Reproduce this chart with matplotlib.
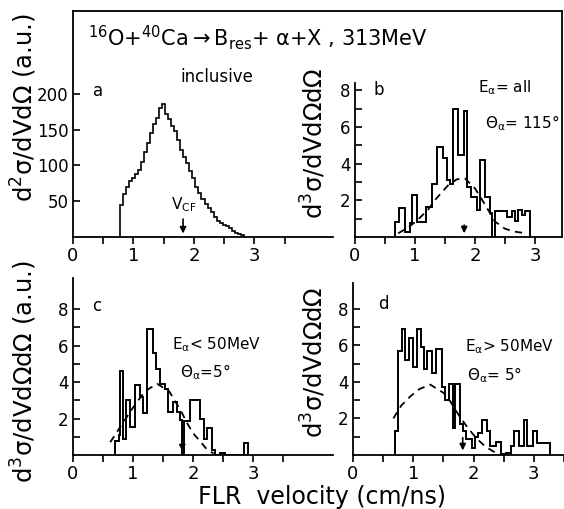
import numpy as np
import matplotlib.pyplot as plt
from matplotlib.lines import Line2D

# panel a: inclusive spectrum (bins of 0.05 starting at 0.775)
a_start = 0.775
a_width = 0.05
a_vals = [45, 60, 70, 78, 82, 88, 93, 105, 119, 132, 145, 158, 166, 180, 186,
          172, 165, 155, 148, 135, 122, 112, 104, 92, 82, 70, 62, 53, 46, 40,
          35, 28, 22, 20, 17, 15, 13, 9, 6, 4, 3]

# panel b: E_alpha = all, theta = 115
b_edges = [0.67, 0.74, 0.83, 0.92, 0.95, 1.03, 1.19, 1.29, 1.36, 1.47, 1.53,
           1.58, 1.64, 1.72, 1.81, 1.87, 1.94, 2.03, 2.08, 2.17, 2.25, 2.28,
           2.33, 2.53, 2.61, 2.67, 2.72, 2.78, 2.83, 2.91]
b_vals = [0.84, 1.57, 0.3, 0.75, 2.3, 0.84, 1.65, 2.9, 4.9, 4.3, 3.1, 2.9,
          7.0, 4.5, 6.85, 2.75, 2.2, 1.48, 4.2, 2.2, 1.3, 0, 1.4, 1.1, 1.4,
          0.9, 1.5, 1.2, 1.4]
b_fit_x = [0.72, 0.9, 1.05, 1.22, 1.33, 1.45, 1.56, 1.7, 1.83, 2.0, 2.17,
           2.33, 2.5, 2.65, 2.85]
b_fit_y = [0.2, 0.55, 0.95, 1.5, 2.0, 2.45, 2.85, 3.15, 3.2, 2.65, 1.75,
           0.85, 0.45, 0.3, 0.2]

# panel c: E_alpha < 50 MeV
c_edges = [0.70, 0.76, 0.78, 0.84, 0.89, 0.95, 1.03, 1.12, 1.17, 1.23, 1.34,
           1.39, 1.45, 1.53, 1.59, 1.67, 1.73, 1.78, 1.82, 1.85, 1.95, 2.12,
           2.18, 2.23, 2.31, 2.37, 2.45, 2.53, 2.84, 2.92]
c_vals = [0.75, 1.1, 4.6, 0.9, 3.0, 1.55, 3.85, 3.2, 2.3, 6.9, 5.6, 4.7, 3.9,
          3.6, 2.35, 2.9, 2.35, 1.9, 0, 1.85, 3.0, 2.0, 0.9, 1.5, 0.3, 0,
          0.1, 0, 0.65]
c_fit_x = [0.62, 0.8, 1.0, 1.2, 1.4, 1.6, 1.8, 1.9, 2.0, 2.12, 2.22, 2.34]
c_fit_y = [0.7, 1.6, 2.6, 3.5, 3.9, 3.5, 2.4, 1.75, 1.2, 0.73, 0.35, 0.08]

# panel d: E_alpha > 50 MeV
d_edges = [0.70, 0.75, 0.81, 0.87, 0.93, 1.00, 1.06, 1.12, 1.17, 1.23, 1.31,
           1.37, 1.47, 1.53, 1.60, 1.66, 1.70, 1.77, 1.82, 1.88, 1.97, 2.02,
           2.07, 2.14, 2.23, 2.28, 2.37, 2.45, 2.53, 2.62, 2.67, 2.75, 2.84,
           2.89, 2.98, 3.06, 3.26]
d_vals = [1.3, 5.7, 6.9, 5.2, 6.4, 4.8, 6.9, 5.9, 4.7, 5.7, 4.5, 5.8, 3.7,
          3.0, 3.9, 1.5, 3.9, 1.7, 1.3, 0.9, 0.4, 1.0, 1.2, 1.9, 1.3, 0.5,
          0.7, 0.05, 0.1, 0.5, 1.3, 0.5, 1.9, 0.5, 1.3, 0.65]
d_fit_x = [0.67, 0.8, 0.95, 1.1, 1.28, 1.5, 1.6, 1.75, 1.9, 2.05, 2.2, 2.35,
           2.45]
d_fit_y = [2.0, 2.7, 3.2, 3.6, 3.85, 3.4, 3.0, 2.2, 1.5, 0.9, 0.45, 0.15, 0.0]

v_cf = 1.82

W, H = 564, 509
plt.rcParams['font.family'] = ['DejaVu Sans']
plt.rcParams['mathtext.default'] = 'regular'
fig = plt.figure(figsize=(W / 100, H / 100), dpi=100)


def px_axes(left, top, right, bottom):
    return fig.add_axes([left / W, 1 - bottom / H, (right - left) / W,
                         (bottom - top) / H])


def ftext(x, y, s, **kw):
    fig.text(x / W, 1 - y / H, s, **kw)


def style(ax, xmax, ymax, yticks, ylabels):
    ax.set_xlim(0, xmax)
    ax.set_ylim(0, ymax)
    for side in ['top', 'right']:
        ax.spines[side].set_visible(False)
    for side in ['left', 'bottom']:
        ax.spines[side].set_linewidth(1.3)
    xt = [t for t in np.arange(0, 3.51, 0.5) if t <= xmax]
    ax.set_xticks(xt)
    ax.set_xticklabels([str(int(t)) if t == int(t) else '' for t in xt])
    ax.set_yticks(yticks)
    ax.set_yticklabels(ylabels)
    ax.tick_params(axis='x', direction='out', length=5, width=1.2,
                   labelsize=13, pad=2)
    ax.tick_params(axis='y', direction='in', length=5, width=1.2,
                   labelsize=12, pad=3)
    ax.patch.set_alpha(0)


def arrow(ax, x, y0, y1):
    ax.annotate('', xy=(x, y1), xytext=(x, y0),
                arrowprops=dict(arrowstyle='-|>', color='black', lw=1.2,
                                mutation_scale=9))


hist_kw = dict(color='black', lw=1.4, baseline=0, fill=False)
fit_kw = dict(color='black', lw=1.3, linestyle=(0, (4, 3)))

# panel a
ax_a = px_axes(73, 11, 333, 237)
a_edges = a_start + a_width * np.arange(len(a_vals) + 1)
ax_a.stairs(a_vals, a_edges, color='black', lw=1.2, baseline=0, fill=False)
arrow(ax_a, v_cf, 29, 1)
style(ax_a, 4.3, 316, [50, 100, 150, 200], ['50', '100', '150', '200'])

# panel b
ax_b = px_axes(355, 83, 562, 237)
ax_b.stairs(b_vals, b_edges, **hist_kw)
ax_b.plot(b_fit_x, b_fit_y, **fit_kw)
arrow(ax_b, v_cf, 0.8, 0.05)
small = list(range(1, 9))
style(ax_b, 3.45, 8.4, small, ['', '2', '', '4', '', '6', '', '8'])

# panel c
ax_c = px_axes(73, 278, 333, 455)
ax_c.stairs(c_vals, c_edges, **hist_kw)
ax_c.plot(c_fit_x, c_fit_y, **fit_kw)
arrow(ax_c, v_cf, 0.6, 0.05)
style(ax_c, 4.33, 9.7, small, ['', '2', '', '4', '', '6', '', '8'])

# panel d
ax_d = px_axes(353, 283, 564, 455)
ax_d.stairs(d_vals, d_edges, **hist_kw)
ax_d.plot(d_fit_x, d_fit_y, **fit_kw)
arrow(ax_d, v_cf, 1.1, 0.1)
style(ax_d, 3.5, 9.4, small, ['', '2', '', '4', '', '6', '', '8'])

# frame around the top part
fig.add_artist(Line2D([73 / W, 562 / W], [1 - 11 / H, 1 - 11 / H],
                      color='black', lw=1.3))
fig.add_artist(Line2D([562 / W, 562 / W], [1 - 11 / H, 1 - 237 / H],
                      color='black', lw=1.3))

# titles and annotations
ftext(88, 38, r'$^{16}$O+$^{40}$Ca$\rightarrow$B$_{res}$+ $\alpha$+X , 313MeV',
      fontsize=15, ha='left', va='center')
ftext(98, 91, 'a', fontsize=12, ha='center', va='center')
ftext(217, 77, 'inclusive', fontsize=12, ha='center', va='center')
ftext(184, 205, r'V$_{CF}$', fontsize=11, ha='center', va='center')

ftext(379, 90, 'b', fontsize=12, ha='center', va='center')
ftext(478, 88, r'E$_\alpha$= all', fontsize=11, ha='left', va='center')
ftext(485, 123, r'$\Theta_\alpha$= 115°', fontsize=11, ha='left', va='center')

ftext(97, 306, 'c', fontsize=12, ha='center', va='center')
ftext(172, 345, r'E$_\alpha$< 50MeV', fontsize=11, ha='left', va='center')
ftext(180, 372, r'$\Theta_\alpha$=5°', fontsize=11, ha='left', va='center')

ftext(383, 304, 'd', fontsize=12, ha='center', va='center')
ftext(465, 347, r'E$_\alpha$> 50MeV', fontsize=11, ha='left', va='center')
ftext(467, 375, r'$\Theta_\alpha$= 5°', fontsize=11, ha='left', va='center')

# axis labels
ftext(322, 497, 'FLR  velocity (cm/ns)', fontsize=17, ha='center',
      va='center')
ftext(24, 108, r'd$^2$σ/dVdΩ (a.u.)', fontsize=17.5, rotation=90,
      ha='center', va='center')
ftext(314, 143, r'd$^3$σ/dVdΩdΩ', fontsize=17.5, rotation=90,
      ha='center', va='center')
ftext(24, 372, r'd$^3$σ/dVdΩdΩ (a.u.)', fontsize=17.5, rotation=90,
      ha='center', va='center')
ftext(314, 362, r'd$^3$σ/dVdΩdΩ', fontsize=17.5, rotation=90,
      ha='center', va='center')

fig.savefig('out.png', dpi=100)
